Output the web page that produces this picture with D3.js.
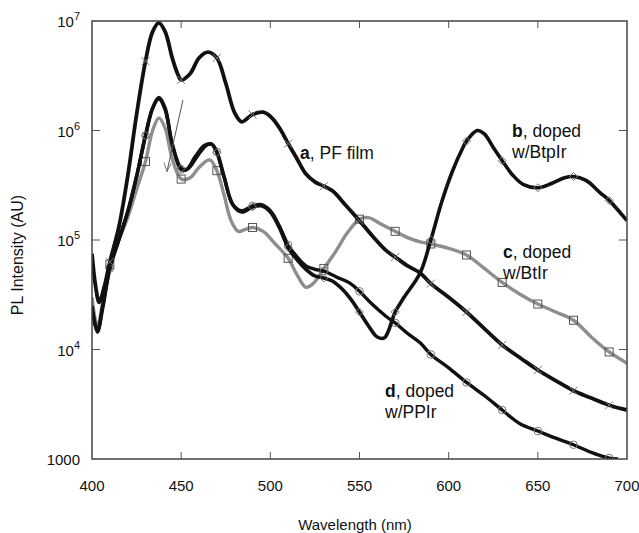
<!DOCTYPE html>
<meta charset="utf-8">
<html>
<head>
<title>PL spectra</title>
<style>
  body { margin: 0; background: #fff; }
  svg text { font-family: "Liberation Sans", Arial, sans-serif; fill: #111; }
</style>
</head>
<body>
<script src="https://cdn.jsdelivr.net/npm/d3@7/dist/d3.min.js"></script>
<script>

// a, PF film
var wlA = [400,402,404,407,410,415,420,425,430,434,437.5,441,445,448,450,455,460,465,470,475,480,484,490,496,501,506,510,515,520,525,530,535,542,550,557,565,570,577,584,590,600,610,620,630,641,650,660,670,680,690,700];
var pfFilm = [7.5e4,3.8e4,2.7e4,3.8e4,6.3e4,1.3e5,3.8e5,1.4e6,4.3e6,8e6,9.6e6,8e6,4.6e6,3.3e6,2.9e6,3.3e6,4.6e6,5.2e6,4.6e6,2.7e6,1.45e6,1.2e6,1.4e6,1.47e6,1.3e6,1.0e6,7.6e5,5.5e5,4.0e5,3.4e5,3.1e5,2.8e5,2.1e5,1.5e5,1.1e5,8e4,7e4,5.8e4,5e4,4e4,3e4,2.2e4,1.55e4,1.1e4,8.2e3,6.5e3,5.2e3,4.2e3,3.6e3,3.1e3,2.8e3];

// b, doped w/BtpIr
var wlB = [400,403,406,410,415,420,425,430,434,437.5,441,445,450,453,458,463,467,470,474,479,484,490,495,500,505,510,515,520,525,530,535,540,545,550,555,560,564,570,575,584,590,596,602,608,610,616,620,625,630,636,642,650,658,665,670,677,685,690,700];
var btpIr = [2.5e4,1.45e4,2.4e4,5.5e4,1e5,1.8e5,3.8e5,9e5,1.6e6,2e6,1.6e6,7.5e5,4.5e5,4.4e5,5.8e5,7.3e5,7.5e5,6.3e5,3.8e5,2.1e5,1.8e5,2e5,2.05e5,1.8e5,1.3e5,8.5e4,6.6e4,5.4e4,4.7e4,4.5e4,4.2e4,3.6e4,2.9e4,2.2e4,1.65e4,1.3e4,1.28e4,2.2e4,3e4,5e4,1e5,2.2e5,4.2e5,7e5,8e5,1e6,9.3e5,7e5,5.3e5,3.9e5,3.2e5,3e5,3.3e5,3.7e5,3.8e5,3.5e5,2.7e5,2.3e5,1.5e5];

// c, doped w/BtIr
var wlC = [400,403,406,410,415,420,425,430,434,437.5,441,445,450,455,460,466,470,474,478,482,486,490,496,502,510,515,520,524,530,537,543,550,555,562,570,577,584,590,600,610,620,630,640,650,660,670,680,690,700];
var btIr = [3e4,1.6e4,2.7e4,6e4,1e5,1.6e5,2.9e5,5.2e5,1e6,1.3e6,1.05e6,5.5e5,3.6e5,3.7e5,4.6e5,5.4e5,4.3e5,2.6e5,1.5e5,1.2e5,1.25e5,1.3e5,1.2e5,9.5e4,6.8e4,4.8e4,3.7e4,4e4,5.5e4,8e4,1.15e5,1.55e5,1.6e5,1.4e5,1.2e5,1.05e5,9.6e4,9.2e4,8.4e4,7.3e4,5.5e4,4.1e4,3.2e4,2.6e4,2.2e4,1.85e4,1.3e4,9.5e3,7.5e3];

// d, doped w/PPIr
var wlD = [400,403,406,410,415,420,425,430,434,437.5,441,445,450,454,459,464,467,470,474,479,484,490,495,500,505,510,515,520,525,530,537,545,550,557,565,570,577,584,590,600,610,620,630,640,650,660,670,680,690,695];
var ppIr = [2.3e4,1.45e4,2.5e4,5.5e4,1e5,1.8e5,3.8e5,9e5,1.6e6,1.95e6,1.55e6,7.5e5,4.4e5,4.5e5,5.8e5,7.3e5,7.5e5,6.4e5,3.8e5,2.1e5,1.85e5,2.05e5,2.1e5,1.85e5,1.35e5,9e4,7e4,5.8e4,5.4e4,5.2e4,4.6e4,4e4,3.4e4,2.6e4,2e4,1.75e4,1.4e4,1.15e4,9e3,6.8e3,5e3,3.8e3,2.8e3,2.1e3,1.8e3,1.55e3,1.35e3,1.15e3,1.02e3,1e3];

var markerWl = [410,430,450,470,490,510,530,550,570,590,610,630,650,670,690];
var xTicks = [400,450,500,550,600,650,700];
var yTicks = [1e3,1e4,1e5,1e6,1e7];

// thin arrow drawn near 450 nm
var arrowLine = [[451,1.9e6],[442,4.2e5]];
var arrowHead = [[440.4,5.1e5],[442,4.2e5],[444.3,5.0e5]];

var width = 639, height = 533;
var x0 = 92, x1 = 627, y0 = 21, y1 = 459;

var x = d3.scaleLinear().domain([400,700]).range([x0,x1]);
var y = d3.scaleLog().domain([1e3,1e7]).range([y1,y0]);

var svg = d3.select("body").append("svg")
    .attr("width", width)
    .attr("height", height);

function pairs(wl, vals) {
  return wl.map(function(w, i) { return {w: w, v: vals[i]}; });
}

var series = [
  {key: "c", data: pairs(wlC, btIr), color: "#8e8e8e", sw: 3.4, mark: "square"},
  {key: "d", data: pairs(wlD, ppIr), color: "#111", sw: 3.4, mark: "circle"},
  {key: "b", data: pairs(wlB, btpIr), color: "#111", sw: 3.6, mark: "diamond"},
  {key: "a", data: pairs(wlA, pfFilm), color: "#111", sw: 3.8, mark: "cross"}
];

var line = d3.line()
    .x(function(d) { return x(d.w); })
    .y(function(d) { return y(d.v); })
    .curve(d3.curveCatmullRom.alpha(0.5));

var plot = svg.append("g");

plot.append("clipPath").attr("id", "clip")
  .append("rect").attr("x", x0).attr("y", y0).attr("width", x1 - x0).attr("height", y1 - y0);

var lines = plot.append("g").attr("clip-path", "url(#clip)");

series.forEach(function(s) {
  lines.append("path")
      .datum(s.data)
      .attr("d", line)
      .attr("fill", "none")
      .attr("stroke", s.color)
      .attr("stroke-width", s.sw)
      .attr("stroke-linejoin", "round");

  var pts = s.data.filter(function(d) { return markerWl.indexOf(d.w) >= 0; });
  var g = lines.append("g")
      .attr("fill", "none")
      .attr("stroke", "#777")
      .attr("stroke-width", 1);
  pts.forEach(function(d) {
    var px = x(d.w), py = y(d.v);
    if (s.mark == "square") {
      g.append("rect").attr("x", px - 4).attr("y", py - 4).attr("width", 8).attr("height", 8)
        .attr("stroke", "#555").attr("fill", "none");
    } else if (s.mark == "circle") {
      g.append("circle").attr("cx", px).attr("cy", py).attr("r", 3.8);
    } else if (s.mark == "diamond") {
      g.append("path").attr("d", "M" + px + "," + (py - 4) + "L" + (px + 4) + "," + py +
        "L" + px + "," + (py + 4) + "L" + (px - 4) + "," + py + "Z");
    } else {
      g.append("path").attr("d", "M" + (px - 4) + "," + (py - 4) + "L" + (px + 4) + "," + (py + 4) +
        "M" + (px - 4) + "," + (py + 4) + "L" + (px + 4) + "," + (py - 4));
    }
  });
});

// arrow
var simple = d3.line().x(function(d) { return x(d[0]); }).y(function(d) { return y(d[1]); });
plot.append("path").attr("d", simple(arrowLine)).attr("fill", "none").attr("stroke", "#555").attr("stroke-width", 1);
plot.append("path").attr("d", simple(arrowHead)).attr("fill", "none").attr("stroke", "#777").attr("stroke-width", 1);

// frame
plot.append("rect")
    .attr("x", x0).attr("y", y0).attr("width", x1 - x0).attr("height", y1 - y0)
    .attr("fill", "none").attr("stroke", "#444").attr("stroke-width", 1.5);

// ticks
var tk = svg.append("g").attr("stroke", "#555").attr("stroke-width", 1);
xTicks.slice(1, -1).forEach(function(t) {
  tk.append("line").attr("x1", x(t)).attr("x2", x(t)).attr("y1", y1).attr("y2", y1 - 7);
  tk.append("line").attr("x1", x(t)).attr("x2", x(t)).attr("y1", y0).attr("y2", y0 + 7);
});
yTicks.slice(1, -1).forEach(function(t) {
  tk.append("line").attr("x1", x0).attr("x2", x0 + 8).attr("y1", y(t)).attr("y2", y(t));
  tk.append("line").attr("x1", x1).attr("x2", x1 - 8).attr("y1", y(t)).attr("y2", y(t));
});

// tick labels
svg.append("g").selectAll("text")
    .data(xTicks).enter().append("text")
    .attr("x", function(d) { return x(d); })
    .attr("y", 491)
    .attr("text-anchor", "middle")
    .style("font-size", "15px")
    .text(function(d) { return d; });

var yl = svg.append("g").selectAll("text")
    .data(yTicks).enter().append("text")
    .attr("x", 80)
    .attr("y", function(d) { return y(d) + 6; })
    .attr("text-anchor", "end")
    .style("font-size", "15px");
yl.each(function(d) {
  var t = d3.select(this);
  var e = Math.round(Math.log10(d));
  if (e == 3) { t.text("1000"); return; }
  t.append("tspan").text("10");
  t.append("tspan").attr("dy", -7).style("font-size", "11px").text(e);
});

// axis titles
svg.append("text")
    .attr("x", 355).attr("y", 530)
    .attr("text-anchor", "middle")
    .style("font-size", "15px")
    .text("Wavelength (nm)");

svg.append("text")
    .attr("transform", "translate(23,255) rotate(-90)")
    .attr("text-anchor", "middle")
    .style("font-size", "16px")
    .text("PL Intensity (AU)");

// curve labels
var labels = [
  {b: "a", rest: ", PF film", x: 300, y: 159},
  {b: "b", rest: ", doped", x: 512, y: 137, line2: "w/BtpIr"},
  {b: "c", rest: ", doped", x: 503, y: 258, line2: "w/BtIr"},
  {b: "d", rest: ", doped", x: 385, y: 397, line2: "w/PPIr"}
];
labels.forEach(function(l) {
  var t = svg.append("text").attr("x", l.x).attr("y", l.y).style("font-size", "17.5px");
  t.append("tspan").style("font-weight", "bold").text(l.b);
  t.append("tspan").text(l.rest);
  if (l.line2) {
    svg.append("text").attr("x", l.x).attr("y", l.y + 21).style("font-size", "17.5px").text(l.line2);
  }
});

</script>
</body>
</html>
